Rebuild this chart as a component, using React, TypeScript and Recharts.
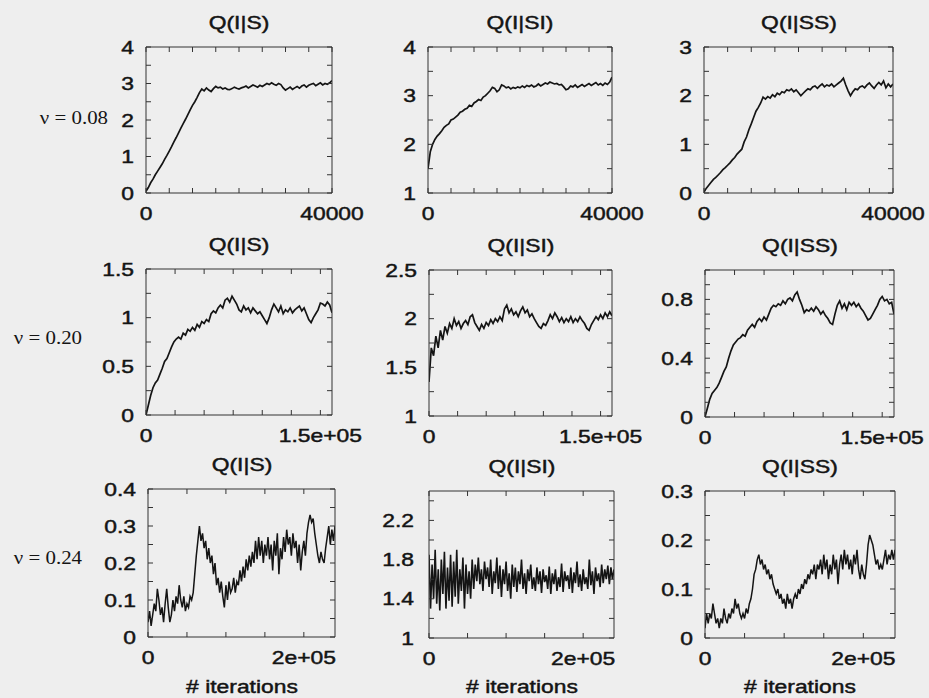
import React from 'react';
import { LineChart, Line, XAxis, YAxis } from 'recharts';

// ---------- text ----------
const TITLES = ['Q(I|S)', 'Q(I|SI)', 'Q(I|SS)'];
const ROW_LABELS = ['ν = 0.08', 'ν = 0.20', 'ν = 0.24'];
const X_TITLE = '# iterations';

// ---------- x axes per row ----------
const X_STEP = [500, 2000, 2000];
const X_MAX = [40000, 160000, 240000];
const X_TICKS_ROW0 = [0, 5000, 10000, 15000, 20000, 25000, 30000, 35000, 40000];
const X_TICKS_ROW1 = [0, 25000, 50000, 75000, 100000, 125000, 150000];
const X_TICKS_ROW2 = [0, 50000, 100000, 150000, 200000];
const X_LABELS_ROW0: Record<string, string> = { '0': '0', '40000': '40000' };
const X_LABELS_ROW1: Record<string, string> = { '0': '0', '150000': '1.5e+05' };
const X_LABELS_ROW2: Record<string, string> = { '0': '0', '200000': '2e+05' };

// ---------- y axes per panel ----------
const Y_TICKS_00 = [0, 0.5, 1, 1.5, 2, 2.5, 3, 3.5, 4];
const Y_LABELS_00 = [0, 1, 2, 3, 4];
const Y_TICKS_01 = [1, 1.5, 2, 2.5, 3, 3.5, 4];
const Y_LABELS_01 = [1, 2, 3, 4];
const Y_TICKS_02 = [0, 0.5, 1, 1.5, 2, 2.5, 3];
const Y_LABELS_02 = [0, 1, 2, 3];
const Y_TICKS_10 = [0, 0.25, 0.5, 0.75, 1, 1.25, 1.5];
const Y_LABELS_10 = [0, 0.5, 1, 1.5];
const Y_TICKS_11 = [1, 1.25, 1.5, 1.75, 2, 2.25, 2.5];
const Y_LABELS_11 = [1, 1.5, 2, 2.5];
const Y_TICKS_12 = [0, 0.1, 0.2, 0.3, 0.4, 0.5, 0.6, 0.7, 0.8, 0.9, 1];
const Y_LABELS_12 = [0, 0.4, 0.8];
const Y_TICKS_20 = [0, 0.05, 0.1, 0.15, 0.2, 0.25, 0.3, 0.35, 0.4];
const Y_LABELS_20 = [0, 0.1, 0.2, 0.3, 0.4];
const Y_TICKS_21 = [1, 1.2, 1.4, 1.6, 1.8, 2, 2.2, 2.4];
const Y_LABELS_21 = [1, 1.4, 1.8, 2.2];
const Y_TICKS_22 = [0, 0.05, 0.1, 0.15, 0.2, 0.25, 0.3];
const Y_LABELS_22 = [0, 0.1, 0.2, 0.3];

// ---------- series values ----------
const Q_IS_008 = [
  0.05, 0.15, 0.28, 0.38, 0.5, 0.6, 0.7, 0.8, 0.92, 1.03,
  1.15, 1.27, 1.4, 1.52, 1.65, 1.78, 1.9, 2.02, 2.15, 2.28,
  2.4, 2.5, 2.62, 2.75, 2.85, 2.8, 2.88, 2.82, 2.78, 2.86,
  2.92, 2.88, 2.9, 2.85, 2.88, 2.84, 2.83, 2.86, 2.9, 2.87,
  2.85, 2.88, 2.9, 2.93, 2.88, 2.92, 2.96, 2.93, 2.9, 2.95,
  2.92, 2.96, 3.0, 2.97, 3.02, 2.98, 2.95, 3.0, 2.97, 2.88,
  2.82, 2.86, 2.9, 2.84, 2.88, 2.92, 2.87, 2.93, 2.96, 2.9,
  2.95, 2.98, 3.0, 2.94, 2.98, 3.02, 2.96, 3.0, 2.98, 3.02,
  3.08,
];
const Q_ISI_008 = [
  1.5, 1.85, 2.0, 2.1, 2.17, 2.22, 2.28, 2.35, 2.39, 2.42,
  2.5, 2.52, 2.56, 2.6, 2.66, 2.68, 2.72, 2.74, 2.8, 2.78,
  2.85, 2.88, 2.92, 2.9, 2.97, 3.0, 3.05, 3.1, 3.17, 3.15,
  3.08, 3.12, 3.22, 3.2, 3.16, 3.18, 3.14, 3.17, 3.15, 3.18,
  3.16, 3.2, 3.17, 3.21, 3.19, 3.22, 3.18, 3.2, 3.24, 3.2,
  3.23, 3.26, 3.24, 3.28, 3.26, 3.24, 3.25, 3.22, 3.23, 3.18,
  3.12, 3.14, 3.2, 3.18, 3.22, 3.17, 3.2, 3.23, 3.19, 3.22,
  3.25, 3.21, 3.24, 3.27, 3.22, 3.25, 3.21, 3.26, 3.23, 3.28,
  3.38,
];
const Q_ISS_008 = [
  0.02, 0.1, 0.16, 0.22, 0.28, 0.32, 0.37, 0.42, 0.48, 0.52,
  0.57, 0.62, 0.68, 0.73, 0.8, 0.85, 0.9, 1.05, 1.15, 1.3,
  1.42, 1.55, 1.68, 1.76, 1.85, 1.97, 1.93, 1.98, 1.95, 2.02,
  1.98, 2.05, 2.02, 2.08, 2.06, 2.12, 2.1, 2.14, 2.08, 2.12,
  2.06, 2.0, 2.05, 2.1, 2.14, 2.12, 2.18, 2.2, 2.15, 2.2,
  2.24, 2.18, 2.22, 2.2, 2.24, 2.18, 2.22, 2.26, 2.3, 2.36,
  2.22, 2.1, 2.0, 2.08, 2.14, 2.12, 2.18, 2.2, 2.16, 2.22,
  2.26, 2.2, 2.15, 2.22, 2.27, 2.22, 2.3, 2.16, 2.24, 2.18,
  2.24,
];
const Q_IS_020 = [
  0.0, 0.1, 0.2, 0.28, 0.33, 0.36, 0.42, 0.48, 0.55, 0.58,
  0.64, 0.7, 0.75, 0.78, 0.8, 0.78, 0.84, 0.82, 0.88, 0.86,
  0.9, 0.87, 0.93, 0.9, 0.96, 0.94, 0.98, 0.96, 1.04, 1.07,
  1.05, 1.1, 1.13, 1.1, 1.18, 1.2, 1.16, 1.22, 1.18, 1.14,
  1.08, 1.06, 1.12, 1.08, 1.1, 1.05, 1.1, 1.07, 1.04, 1.06,
  1.02, 0.98, 0.94, 1.0, 1.08, 1.14, 1.1, 1.06, 1.12, 1.04,
  1.08, 1.06, 1.1, 1.05, 1.08, 1.1, 1.12, 1.07, 1.1, 1.04,
  0.98, 0.95, 1.0, 1.04, 1.08, 1.15, 1.14, 1.12, 1.16, 1.13,
  1.05,
];
const Q_ISI_020 = [
  1.35, 1.7, 1.62, 1.82, 1.7, 1.88, 1.78, 1.92, 1.85, 1.95,
  1.9, 2.0, 1.93, 1.97, 1.9, 1.95, 1.98, 1.94, 2.02, 2.04,
  1.96, 1.92, 1.88, 1.94, 1.9, 1.96, 1.93, 1.99, 1.95, 2.0,
  1.97, 2.02, 1.98, 2.1, 2.14, 2.06, 2.1, 2.04, 2.07, 2.02,
  2.08, 2.12, 2.06, 2.09, 2.02, 2.05, 2.0, 1.96, 1.92, 1.9,
  1.95, 1.93, 1.98, 2.04, 2.0, 2.06, 2.02, 1.97, 2.01, 1.96,
  2.0, 1.97, 2.02, 1.96, 2.0, 1.97, 2.02, 1.98, 1.95, 1.9,
  1.88, 1.94, 1.98, 2.02, 1.99, 2.04, 2.0, 2.06, 2.02, 2.07,
  2.03,
];
const Q_ISS_020 = [
  0.0, 0.06, 0.12, 0.16, 0.18, 0.2, 0.23, 0.27, 0.31, 0.34,
  0.4, 0.45, 0.49, 0.51, 0.53, 0.54, 0.56, 0.55, 0.59, 0.61,
  0.63, 0.61, 0.65, 0.67, 0.65, 0.68, 0.66, 0.7, 0.74, 0.76,
  0.75, 0.77, 0.76, 0.79, 0.77, 0.8, 0.81, 0.79, 0.83, 0.85,
  0.8, 0.76, 0.71, 0.73, 0.72, 0.74, 0.72, 0.75, 0.73, 0.7,
  0.72, 0.69, 0.67, 0.64, 0.63, 0.7, 0.76, 0.79, 0.74, 0.77,
  0.73, 0.78, 0.76, 0.78, 0.75, 0.77, 0.74, 0.72, 0.69, 0.66,
  0.67, 0.7, 0.73, 0.76, 0.8, 0.82, 0.79, 0.8, 0.77, 0.78,
  0.7,
];
const Q_IS_024 = [
  0.04, 0.07, 0.03, 0.06, 0.09, 0.07, 0.13, 0.1, 0.06, 0.08,
  0.04, 0.09, 0.13, 0.08, 0.04, 0.06, 0.1, 0.07, 0.11, 0.09,
  0.14, 0.1, 0.08, 0.11, 0.07, 0.09, 0.08, 0.11, 0.1, 0.12,
  0.17, 0.22, 0.26, 0.3, 0.26, 0.28, 0.24, 0.26, 0.21, 0.24,
  0.2, 0.22, 0.17, 0.2, 0.14, 0.16, 0.12, 0.15, 0.11, 0.08,
  0.14, 0.1, 0.15, 0.12, 0.13, 0.16, 0.12, 0.15, 0.14, 0.18,
  0.15, 0.19, 0.16, 0.21, 0.18, 0.22, 0.19, 0.23, 0.2, 0.26,
  0.21, 0.27, 0.22, 0.26, 0.2, 0.25, 0.22, 0.27, 0.21, 0.25,
  0.18, 0.26, 0.22, 0.28, 0.17, 0.24, 0.21, 0.27, 0.23, 0.29,
  0.25, 0.27, 0.22, 0.28, 0.24, 0.26, 0.2, 0.25, 0.18, 0.23,
  0.26, 0.22, 0.28, 0.31, 0.33, 0.31, 0.32, 0.28, 0.25, 0.22,
  0.2, 0.23, 0.21, 0.2, 0.24, 0.27, 0.3, 0.25, 0.29, 0.26,
  0.3,
];
const Q_ISI_024 = [
  1.85, 1.3, 1.75, 1.4, 1.9, 1.35, 1.7, 1.28, 1.8, 1.45,
  1.88, 1.3, 1.72, 1.38, 1.85, 1.32, 1.78, 1.42, 1.9, 1.35,
  1.7, 1.48, 1.82, 1.3, 1.75, 1.45, 1.68, 1.4, 1.8,
  1.5, 1.75, 1.58, 1.82, 1.55, 1.7, 1.48, 1.78, 1.6, 1.72,
  1.52, 1.8, 1.45, 1.68, 1.56, 1.82, 1.5, 1.74, 1.42, 1.7,
  1.55, 1.78, 1.48, 1.66, 1.4, 1.75,
  1.52, 1.72, 1.47, 1.68, 1.55, 1.8, 1.5, 1.66, 1.45, 1.7,
  1.58, 1.75, 1.5, 1.62, 1.48, 1.72, 1.55, 1.68, 1.46, 1.7,
  1.57, 1.64, 1.5, 1.73, 1.45, 1.66, 1.55, 1.7, 1.48, 1.62,
  1.52, 1.76, 1.47, 1.68, 1.58, 1.64, 1.5, 1.72, 1.46, 1.67,
  1.56, 1.78, 1.52, 1.65, 1.48, 1.7, 1.55, 1.62, 1.5, 1.8,
  1.54, 1.68, 1.45, 1.72, 1.58, 1.66, 1.52, 1.75, 1.56, 1.7,
  1.6, 1.74, 1.55, 1.72, 1.6, 1.7,
];
const Q_ISS_024 = [
  0.02, 0.05, 0.03, 0.05, 0.04, 0.07, 0.05, 0.03, 0.04, 0.02,
  0.04, 0.03, 0.06, 0.04, 0.03, 0.05, 0.04, 0.06, 0.05, 0.08,
  0.06, 0.07, 0.05, 0.04, 0.05, 0.04, 0.06, 0.05, 0.07, 0.08,
  0.1, 0.13, 0.14, 0.16, 0.17, 0.15, 0.16, 0.14, 0.15, 0.13,
  0.14, 0.12, 0.13, 0.11, 0.1, 0.09, 0.1, 0.08, 0.09, 0.07,
  0.08, 0.06, 0.09, 0.07, 0.08, 0.06, 0.08, 0.09, 0.08, 0.1,
  0.09, 0.11, 0.1, 0.12, 0.11, 0.13, 0.12, 0.14, 0.13, 0.15,
  0.12, 0.15, 0.14, 0.16, 0.13, 0.17, 0.14, 0.16, 0.12, 0.15,
  0.13, 0.17, 0.14, 0.16, 0.11, 0.15, 0.17, 0.14, 0.18, 0.15,
  0.17, 0.14, 0.16, 0.13, 0.17, 0.15, 0.18, 0.14, 0.12, 0.15,
  0.13, 0.12, 0.15, 0.19, 0.21, 0.2, 0.19, 0.17, 0.15, 0.16,
  0.14, 0.15, 0.14, 0.16, 0.18, 0.15, 0.17, 0.16, 0.18, 0.16,
  0.18,
];

// ---------- layout ----------
const FONT = '"Liberation Sans", Arial, Helvetica, sans-serif';
const SERIF = '"Liberation Serif", "Times New Roman", serif';
const SX = 1.27;
const BG = '#eeeeee';
const INK = '#141414';
// plot boxes [left, top, right, bottom]
const BOXES = [
  [[146, 47, 332, 193], [428, 47, 612, 193], [704, 47, 893, 193]],
  [[146, 269, 332, 415], [429, 270, 612, 416], [705, 270, 894, 417]],
  [[148, 489, 335, 637], [429, 491, 614, 638], [705, 491, 895, 638]],
];
const ROW_LABEL_RIGHT = [108, 82, 82];
const ROW_LABEL_Y = [117, 337, 557];

type Panel = {
  values: number[];
  step: number;
  xMax: number;
  xTicks: number[];
  xLabels: Record<string, string>;
  yDomain: [number, number];
  yTicks: number[];
  yLabels: number[];
};

const X_TICKS = [X_TICKS_ROW0, X_TICKS_ROW1, X_TICKS_ROW2];
const X_LABELS = [X_LABELS_ROW0, X_LABELS_ROW1, X_LABELS_ROW2];

const PANELS: Panel[][] = [
  [
    { values: Q_IS_008, step: X_STEP[0], xMax: X_MAX[0], xTicks: X_TICKS[0], xLabels: X_LABELS[0], yDomain: [0, 4], yTicks: Y_TICKS_00, yLabels: Y_LABELS_00 },
    { values: Q_ISI_008, step: X_STEP[0], xMax: X_MAX[0], xTicks: X_TICKS[0], xLabels: X_LABELS[0], yDomain: [1, 4], yTicks: Y_TICKS_01, yLabels: Y_LABELS_01 },
    { values: Q_ISS_008, step: X_STEP[0], xMax: X_MAX[0], xTicks: X_TICKS[0], xLabels: X_LABELS[0], yDomain: [0, 3], yTicks: Y_TICKS_02, yLabels: Y_LABELS_02 },
  ],
  [
    { values: Q_IS_020, step: X_STEP[1], xMax: X_MAX[1], xTicks: X_TICKS[1], xLabels: X_LABELS[1], yDomain: [0, 1.5], yTicks: Y_TICKS_10, yLabels: Y_LABELS_10 },
    { values: Q_ISI_020, step: X_STEP[1], xMax: X_MAX[1], xTicks: X_TICKS[1], xLabels: X_LABELS[1], yDomain: [1, 2.5], yTicks: Y_TICKS_11, yLabels: Y_LABELS_11 },
    { values: Q_ISS_020, step: X_STEP[1], xMax: X_MAX[1], xTicks: X_TICKS[1], xLabels: X_LABELS[1], yDomain: [0, 1], yTicks: Y_TICKS_12, yLabels: Y_LABELS_12 },
  ],
  [
    { values: Q_IS_024, step: X_STEP[2], xMax: X_MAX[2], xTicks: X_TICKS[2], xLabels: X_LABELS[2], yDomain: [0, 0.4], yTicks: Y_TICKS_20, yLabels: Y_LABELS_20 },
    { values: Q_ISI_024, step: X_STEP[2], xMax: X_MAX[2], xTicks: X_TICKS[2], xLabels: X_LABELS[2], yDomain: [1, 2.5], yTicks: Y_TICKS_21, yLabels: Y_LABELS_21 },
    { values: Q_ISS_024, step: X_STEP[2], xMax: X_MAX[2], xTicks: X_TICKS[2], xLabels: X_LABELS[2], yDomain: [0, 0.3], yTicks: Y_TICKS_22, yLabels: Y_LABELS_22 },
  ],
];

const TICK_LEN = 5;
const AXIS_COLOR = '#333';
const TEXT_STROKE = 0.45;

function makeTick(side: 'bottom' | 'top' | 'left' | 'right', labels: Record<string, string>, gap: number) {
  return (props: any) => {
    const { x, y, payload } = props;
    const v = payload && payload.value;
    const txt = labels[String(v)];
    let line: React.ReactNode = null;
    let label: React.ReactNode = null;
    const textProps = { fontSize: 18, fontFamily: FONT, fill: INK, stroke: INK, strokeWidth: TEXT_STROKE };
    if (side === 'bottom') {
      line = <line x1={x} x2={x} y1={y} y2={y - TICK_LEN} stroke={AXIS_COLOR} strokeWidth={1} />;
      if (txt !== undefined)
        label = (
          <text transform={`translate(${x} ${y + 20}) scale(${SX} 1)`} textAnchor="middle" dominantBaseline="central" {...textProps}>
            {txt}
          </text>
        );
    } else if (side === 'top') {
      line = <line x1={x} x2={x} y1={y} y2={y + TICK_LEN} stroke={AXIS_COLOR} strokeWidth={1} />;
    } else if (side === 'left') {
      line = <line x1={x} x2={x + TICK_LEN} y1={y} y2={y} stroke={AXIS_COLOR} strokeWidth={1} />;
      if (txt !== undefined)
        label = (
          <text transform={`translate(${x - gap} ${y}) scale(${SX} 1)`} textAnchor="end" dominantBaseline="central" {...textProps}>
            {txt}
          </text>
        );
    } else {
      line = <line x1={x} x2={x - TICK_LEN} y1={y} y2={y} stroke={AXIS_COLOR} strokeWidth={1} />;
    }
    return (
      <g>
        {line}
        {label}
      </g>
    );
  };
}

const ML = 70;
const MR = 60;
const MT = 10;
const MB = 40;
const AX = 1; // axis thickness reserved by each axis

function PanelChart({ panel, box, row, col }: { panel: Panel; box: number[]; row: number; col: number }) {
  const [l, t, r, b] = box;
  const w = r - l;
  const h = b - t;
  const data = panel.values.map((v, i) => ({ x: i * panel.step, y: v }));
  const yLab: Record<string, string> = {};
  panel.yLabels.forEach((v) => (yLab[String(v)] = String(v)));
  const sw = row === 2 ? (col === 1 ? 1.6 : 1.5) : 1.7;
  const common = {
    interval: 0 as const,
    tickSize: 0,
    tickMargin: 0,
    tickLine: false,
    allowDataOverflow: true,
    axisLine: { stroke: AXIS_COLOR, strokeWidth: 1 },
  };
  return (
    <div style={{ position: 'absolute', left: l - ML, top: t - MT }}>
      <LineChart
        width={w + ML + MR}
        height={h + MT + MB}
        data={data}
        margin={{ left: ML - AX, right: MR - AX, top: MT - AX, bottom: MB - AX }}
        style={{ overflow: 'visible' }}
      >
        <XAxis
          {...common}
          xAxisId="bottom"
          dataKey="x"
          type="number"
          domain={[0, panel.xMax]}
          ticks={panel.xTicks}
          height={AX}
          tick={makeTick('bottom', panel.xLabels, 0)}
        />
        <XAxis
          {...common}
          xAxisId="top"
          orientation="top"
          dataKey="x"
          type="number"
          domain={[0, panel.xMax]}
          ticks={panel.xTicks}
          height={AX}
          tick={makeTick('top', {}, 0)}
        />
        <YAxis
          {...common}
          yAxisId="left"
          type="number"
          domain={panel.yDomain}
          ticks={panel.yTicks}
          width={AX}
          tick={makeTick('left', yLab, row === 2 && col === 1 ? 15 : 12)}
        />
        <YAxis
          {...common}
          yAxisId="right"
          orientation="right"
          type="number"
          domain={panel.yDomain}
          ticks={panel.yTicks}
          width={AX}
          tick={makeTick('right', {}, 0)}
        />
        <Line
          xAxisId="bottom"
          yAxisId="left"
          type="linear"
          dataKey="y"
          stroke={INK}
          strokeWidth={sw}
          dot={false}
          isAnimationActive={false}
        />
      </LineChart>
    </div>
  );
}

const htmlText: React.CSSProperties = {
  position: 'absolute',
  fontSize: 18,
  lineHeight: 1,
  whiteSpace: 'nowrap',
  color: INK,
  fontFamily: FONT,
  WebkitTextStroke: `${TEXT_STROKE}px ${INK}`,
};

export default function App() {
  return (
    <div
      style={{
        position: 'absolute',
        left: 0,
        top: 0,
        width: 929,
        height: 698,
        background: BG,
        overflow: 'hidden',
        fontFamily: FONT,
      }}
    >
      {PANELS.map((rowPanels, ri) =>
        rowPanels.map((p, ci) => {
          const box = BOXES[ri][ci];
          const cx = (box[0] + box[2]) / 2;
          return (
            <React.Fragment key={`${ri}-${ci}`}>
              <div
                style={{
                  ...htmlText,
                  left: cx,
                  top: box[1] - 24,
                  transform: `translate(-50%, -50%) scaleX(${SX})`,
                }}
              >
                {TITLES[ci]}
              </div>
              <PanelChart panel={p} box={box} row={ri} col={ci} />
              {ri === 2 && (
                <div
                  style={{
                    ...htmlText,
                    left: cx,
                    top: 687,
                    transform: `translate(-50%, -50%) scaleX(${SX})`,
                  }}
                >
                  {X_TITLE}
                </div>
              )}
            </React.Fragment>
          );
        })
      )}
      {ROW_LABELS.map((lab, ri) => (
        <div
          key={lab}
          style={{
            position: 'absolute',
            right: 929 - ROW_LABEL_RIGHT[ri],
            top: ROW_LABEL_Y[ri],
            transform: 'translateY(-50%) scaleX(1.1)',
            transformOrigin: 'right center',
            fontSize: 19,
            lineHeight: 1,
            whiteSpace: 'nowrap',
            color: INK,
            fontFamily: SERIF,
          }}
        >
          {lab}
        </div>
      ))}
    </div>
  );
}
